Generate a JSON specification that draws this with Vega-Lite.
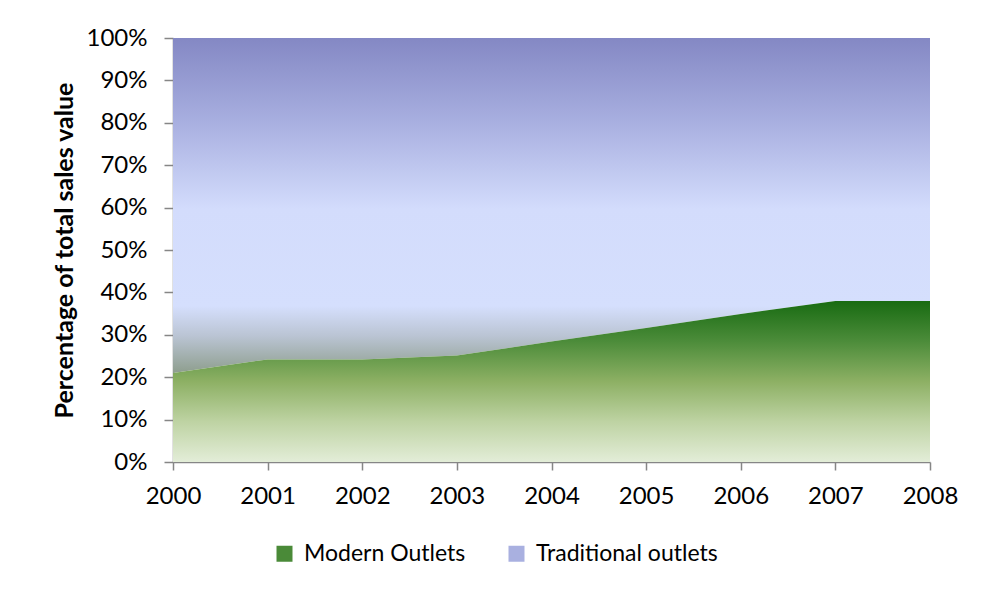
{
  "$schema": "https://vega.github.io/schema/vega-lite/v6.json",
  "width": 757,
  "height": 424,
  "autosize": "none",
  "padding": {"left": 173, "top": 38, "right": 59, "bottom": 130},
  "background": "white",
  "config": {"view": {"stroke": null}, "font": "Lato"},
  "data": {
    "values": [
      {"year": 2000, "outlet": "Modern Outlets", "ord": 1, "share": 21.0},
      {"year": 2001, "outlet": "Modern Outlets", "ord": 1, "share": 24.2},
      {"year": 2002, "outlet": "Modern Outlets", "ord": 1, "share": 24.2},
      {"year": 2003, "outlet": "Modern Outlets", "ord": 1, "share": 25.1},
      {"year": 2004, "outlet": "Modern Outlets", "ord": 1, "share": 28.4},
      {"year": 2005, "outlet": "Modern Outlets", "ord": 1, "share": 31.6},
      {"year": 2006, "outlet": "Modern Outlets", "ord": 1, "share": 34.9},
      {"year": 2007, "outlet": "Modern Outlets", "ord": 1, "share": 38.0},
      {"year": 2008, "outlet": "Modern Outlets", "ord": 1, "share": 38.0},
      {"year": 2000, "outlet": "Traditional outlets", "ord": 2, "share": 79.0},
      {"year": 2001, "outlet": "Traditional outlets", "ord": 2, "share": 75.8},
      {"year": 2002, "outlet": "Traditional outlets", "ord": 2, "share": 75.8},
      {"year": 2003, "outlet": "Traditional outlets", "ord": 2, "share": 74.9},
      {"year": 2004, "outlet": "Traditional outlets", "ord": 2, "share": 71.6},
      {"year": 2005, "outlet": "Traditional outlets", "ord": 2, "share": 68.4},
      {"year": 2006, "outlet": "Traditional outlets", "ord": 2, "share": 65.1},
      {"year": 2007, "outlet": "Traditional outlets", "ord": 2, "share": 62.0},
      {"year": 2008, "outlet": "Traditional outlets", "ord": 2, "share": 62.0}
    ]
  },
  "transform": [
    {"stack": "share", "groupby": ["year"], "sort": [{"field": "ord", "order": "ascending"}], "as": ["y0", "y1"]}
  ],
  "encoding": {
    "x": {
      "field": "year", "type": "quantitative",
      "scale": {"domain": [2000, 2008], "nice": false, "zero": false},
      "axis": {
        "values": [2000, 2001, 2002, 2003, 2004, 2005, 2006, 2007, 2008],
        "format": "d", "title": null, "grid": false,
        "labelFontSize": 24, "labelColor": "black", "labelFont": "Lato",
        "domainColor": "#868686", "tickColor": "#868686", "domainWidth": 1.5, "tickWidth": 1.5,
        "tickSize": 8, "labelPadding": 14, "labelFlush": false
      }
    },
    "y": {
      "field": "y1", "type": "quantitative",
      "scale": {"domain": [0, 100], "nice": false},
      "axis": {
        "values": [0, 10, 20, 30, 40, 50, 60, 70, 80, 90, 100],
        "labelExpr": "datum.value + '%'",
        "title": "Percentage of total sales value",
        "titleFontSize": 25, "titleFontWeight": "bold", "titleColor": "black", "titleFont": "Lato",
        "titlePadding": 9,
        "grid": false,
        "labelFontSize": 24, "labelColor": "black", "labelFont": "Lato",
        "domainColor": "#868686", "tickColor": "#868686", "domainWidth": 1.5, "tickWidth": 1.5,
        "tickSize": 9, "labelPadding": 17
      }
    },
    "y2": {"field": "y0"},
    "color": {
      "field": "outlet", "type": "nominal",
      "scale": {"domain": ["Modern Outlets", "Traditional outlets"], "range": ["#4A8A38", "#A9B0E0"]},
      "legend": {
        "title": null, "orient": "none", "direction": "horizontal",
        "legendX": 100, "legendY": 504,
        "symbolType": "square", "symbolSize": 256, "symbolStrokeWidth": 0, "symbolOpacity": 1,
        "labelFontSize": 23, "labelColor": "black", "labelFont": "Lato", "labelLimit": 400,
        "labelOffset": 8, "columnPadding": 39
      }
    }
  },
  "layer": [
    {
      "transform": [{"filter": "datum.outlet === 'Traditional outlets'"}],
      "mark": {"type": "area", "opacity": 1, "fillOpacity": 1, "interpolate": "linear",
        "fill": {"gradient": "linear", "x1": 0, "y1": 0, "x2": 0, "y2": 1, "stops": [
          {"offset": 0, "color": "#8488C4"},
          {"offset": 0.25, "color": "#A8AFE0"},
          {"offset": 0.51, "color": "#D3DCFC"},
          {"offset": 0.8, "color": "#D5DFFD"},
          {"offset": 0.89, "color": "#BAC4D3"},
          {"offset": 1, "color": "#8E9E8E"}
        ]}
      }
    },
    {
      "transform": [{"filter": "datum.outlet === 'Modern Outlets'"}],
      "mark": {"type": "area", "opacity": 1, "fillOpacity": 1, "interpolate": "linear",
        "fill": {"gradient": "linear", "x1": 0, "y1": 0, "x2": 0, "y2": 1, "stops": [
          {"offset": 0, "color": "#186B12"},
          {"offset": 0.25, "color": "#4C8C3A"},
          {"offset": 0.5, "color": "#8DB064"},
          {"offset": 0.75, "color": "#BED3A3"},
          {"offset": 1, "color": "#E3EDD8"}
        ]}
      }
    }
  ]
}
